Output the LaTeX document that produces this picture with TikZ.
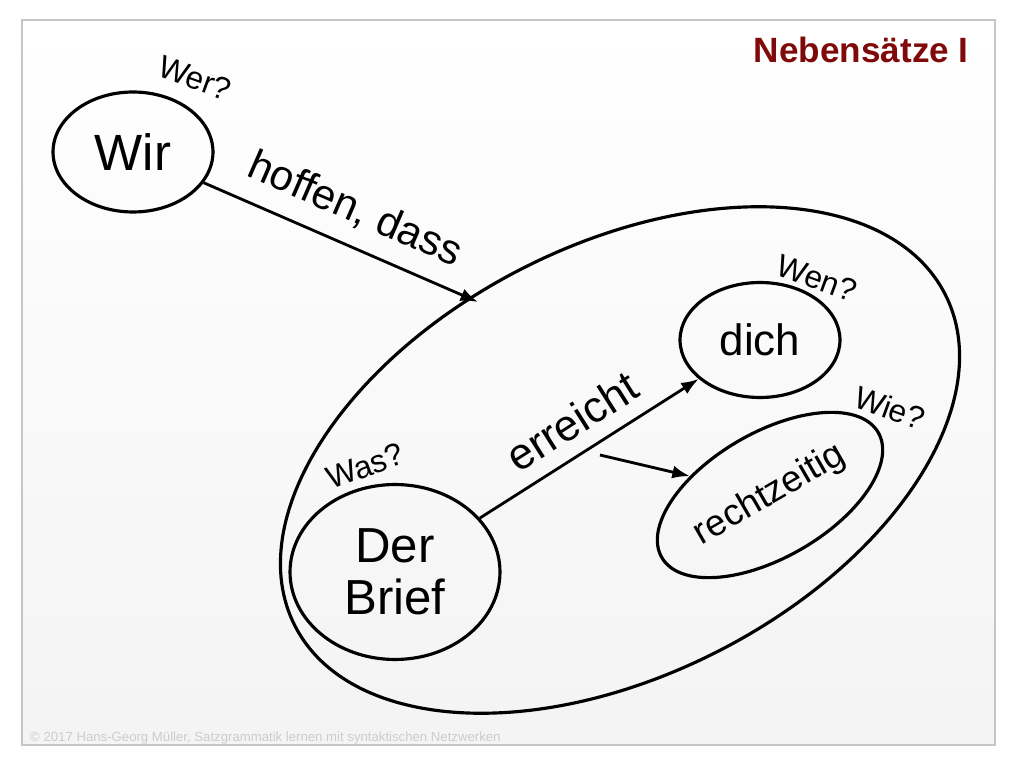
\documentclass[tikz,border=0pt]{standalone}
\usepackage{fontspec}
\setmainfont{Liberation Sans}
\usetikzlibrary{shapes.geometric,arrows.meta}
\definecolor{titlered}{RGB}{128,10,10}
\tikzset{
  bubble/.style={draw,ellipse,line width=1.8pt,inner sep=0pt},
  ask/.style={font=\fontsize{18}{18}\selectfont},
  link/.style={line width=1.6pt,-{Latex[length=3.5mm,width=2.6mm]}}
}
\begin{document}
\begin{tikzpicture}[x=0.02cm,y=0.02cm]
    \useasboundingbox (0,0) rectangle (1024,768);
    \fill[white] (0,0) rectangle (1024,768);
    \shade[top color=white,bottom color=gray!9,draw=gray!45,line width=1pt] (22,23) rectangle (995,748);

    \node[bubble,minimum width=3.2cm,minimum height=2.4cm] (wir) at (133,616) {\fontsize{29}{29}\selectfont Wir};
    \node[bubble,minimum width=14.6cm,minimum height=8.6cm,rotate=27] (clause) at (620,308) {};
    \node[bubble,minimum width=4.2cm,minimum height=3.5cm,align=center] (brief) at (395,196) {\fontsize{28}{32}\selectfont Der\\[8pt]\fontsize{28}{32}\selectfont Brief};
    \node[bubble,minimum width=3.2cm,minimum height=2.3cm] (dich) at (760,428) {\fontsize{25}{25}\selectfont dich};
    \node[bubble,minimum width=5.0cm,minimum height=2.5cm,rotate=30] (zeit) at (770,273) {\fontsize{21}{21}\selectfont rechtzeitig};

    \node[ask,rotate=-20] (wer) at (195,690) {Wer?};
    \node[ask,rotate=20] (was) at (365,302) {Was?};
    \node[ask,rotate=-20] (wen) at (817,490) {Wen?};
    \node[ask,rotate=-20] (wie) at (890,360) {Wie?};

    \coordinate (into) at (478,466);
    \coordinate (fork) at (600,313);
    \draw[link] (wir) -- node[sloped,above=6pt,font=\fontsize{24}{24}\selectfont]{hoffen, dass} (into);
    \draw[link] (brief) -- node[sloped,above=5pt,font=\fontsize{25}{25}\selectfont]{erreicht} (dich);
    \draw[link] (fork) -- (zeit);

    \node[anchor=east,text=titlered,font=\fontsize{20}{20}\selectfont\bfseries] (title) at (975,718) {Nebensätze I};
    \node[anchor=west,text=gray!40,font=\fontsize{7.5}{8}\selectfont] (copy) at (24,30) {© 2017 Hans-Georg Müller, Satzgrammatik lernen mit syntaktischen Netzwerken};
\end{tikzpicture}
\end{document}
